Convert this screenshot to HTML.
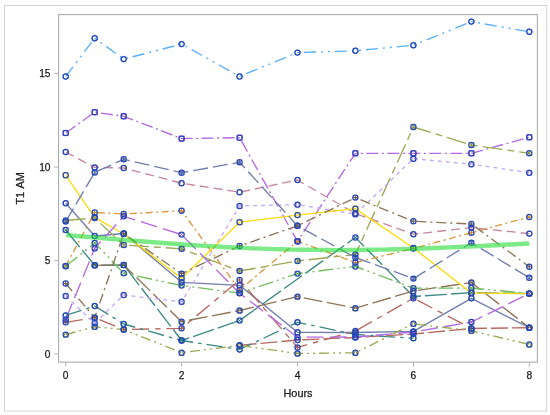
<!DOCTYPE html>
<html><head><meta charset="utf-8"><title>T1 AM by Hours</title>
<style>html,body{margin:0;padding:0;background:#fff;}svg{display:block;}</style>
</head><body>
<svg width="550" height="415" viewBox="0 0 550 415">
<rect width="550" height="415" fill="#fff"/>
<rect x="4.5" y="5.5" width="542.2" height="405.6" fill="#fff" stroke="#d2d2d2" stroke-width="1"/>
<rect x="58.6" y="14.6" width="478.8" height="347.5" fill="#fff" stroke="#aaacae" stroke-width="1.1"/>
<g stroke="#b4b4b4" stroke-width="1">
<line x1="54" x2="58" y1="354.0" y2="354.0"/>
<line x1="54" x2="58" y1="260.6" y2="260.6"/>
<line x1="54" x2="58" y1="167.0" y2="167.0"/>
<line x1="54" x2="58" y1="73.3" y2="73.3"/>
<line x1="65.7" x2="65.7" y1="362.5" y2="366.6"/>
<line x1="181.6" x2="181.6" y1="362.5" y2="366.6"/>
<line x1="297.5" x2="297.5" y1="362.5" y2="366.6"/>
<line x1="413.4" x2="413.4" y1="362.5" y2="366.6"/>
<line x1="529.3" x2="529.3" y1="362.5" y2="366.6"/>
</g>
<g font-family="'Liberation Sans', Arial, sans-serif" font-size="10.2" fill="#1c1c1c" stroke="#1c1c1c" stroke-width="0.25">
<text x="50.5" y="357.8" text-anchor="end">0</text>
<text x="50.5" y="264.4" text-anchor="end">5</text>
<text x="50.5" y="170.8" text-anchor="end">10</text>
<text x="50.5" y="77.1" text-anchor="end">15</text>
<text x="65.7" y="378.9" text-anchor="middle">0</text>
<text x="181.6" y="378.9" text-anchor="middle">2</text>
<text x="297.5" y="378.9" text-anchor="middle">4</text>
<text x="413.4" y="378.9" text-anchor="middle">6</text>
<text x="529.3" y="378.9" text-anchor="middle">8</text>
<text x="298" y="397.4" text-anchor="middle" font-size="10.9">Hours</text>
<text transform="translate(23.5,188.3) rotate(-90)" text-anchor="middle" word-spacing="1" font-size="10.9">T1 AM</text>
</g>
<g fill="none" stroke-width="1.35" stroke-linejoin="round">
<polyline points="65.7,203.2 94.7,236.0 123.7,233.5 181.6,282.3 239.6,285.3 297.5,332.3 355.4,332.5 413.4,331.4 471.4,298.3 529.3,327.7" stroke="#707ead"/>
<polyline points="65.7,322.3 94.7,317.7 123.7,329.5 181.6,328.3 239.6,280.0 297.5,347.4 355.4,331.0 413.4,298.2 471.4,328.4" stroke="#b86960" stroke-dasharray="17,6,5.5,6"/>
<polyline points="65.7,230.0 94.7,265.3 123.7,265.0 181.6,340.5 239.6,320.5 355.4,237.5 413.4,296.5 471.4,292.7 529.3,293.6" stroke="#3d8a84" stroke-dasharray="22,4"/>
<polyline points="94.7,265.3 123.7,265.0 181.6,321.7 239.6,310.5 297.5,296.6 355.4,308.2 413.4,291.0 471.4,282.5 529.3,327.7" stroke="#8e7557" stroke-dasharray="19,4.5"/>
<polyline points="65.7,133.0 94.7,112.2 123.7,116.3 181.6,138.6 239.6,137.7 297.5,241.3 355.4,153.3 413.4,153.3 471.4,153.3 529.3,137.3" stroke="#b46ae3" stroke-dasharray="12,3.5,2,3.5"/>
<polyline points="65.7,220.5 94.7,218.0 123.7,245.0 181.6,248.8 239.6,271.0 297.5,261.0 355.4,254.5 413.4,127.0 471.4,145.0 529.3,153.3" stroke="#9da954" stroke-dasharray="20,5,7,5"/>
<polyline points="65.7,76.4 94.7,38.2 123.7,59.1 181.6,44.1 239.6,76.4 297.5,52.6 355.4,50.8 413.4,45.2 471.4,21.6 529.3,31.8" stroke="#59affb" stroke-dasharray="12,5,2,5,2,5"/>
<polyline points="65.7,152.0 94.7,167.4 123.7,168.0 181.6,183.2 239.6,192.2 297.5,180.0 355.4,213.5 413.4,234.2 471.4,227.6 529.3,233.6" stroke="#c486a1" stroke-dasharray="9,5"/>
<polyline points="65.7,266.0 94.7,212.4 123.7,214.0 181.6,210.8 239.6,290.0 297.5,241.3 355.4,262.5 413.4,248.5 471.4,232.7 529.3,217.0" stroke="#dc983d" stroke-dasharray="7,3.5,2,3.5"/>
<polyline points="65.7,266.3 94.7,243.0 123.7,273.3 181.6,285.5 239.6,293.0 297.5,273.6 355.4,266.4 413.4,288.2 471.4,288.0 529.3,293.6" stroke="#73bc5d" stroke-dasharray="15,4,2,4,2,4"/>
<polyline points="65.7,296.0 94.7,323.2 123.7,295.0 181.6,301.8 239.6,206.0 297.5,204.6 355.4,214.2 413.4,158.7 471.4,164.2 529.3,172.7" stroke="#c5a9f5" stroke-dasharray="4,4"/>
<polyline points="65.7,175.3 94.7,217.3 123.7,234.0 181.6,278.3 239.6,222.2 297.5,215.1 355.4,208.6 413.4,248.0 471.4,293.0 529.3,293.6" stroke="#f9db10"/>
<polyline points="65.7,221.5 94.7,172.5 123.7,159.3 181.6,172.7 239.6,162.3 297.5,225.8 355.4,257.5 413.4,278.6 471.4,242.7 529.3,277.8" stroke="#707ead" stroke-dasharray="15,5"/>
<polyline points="239.6,345.3 297.5,340.0 355.4,337.5 413.4,334.0 471.4,328.5 529.3,327.7" stroke="#b86960" stroke-dasharray="17,4"/>
<polyline points="65.7,315.4 94.7,306.0 123.7,324.0 181.6,340.5 239.6,349.5 297.5,322.3 355.4,334.5 413.4,338.3" stroke="#3d8a84" stroke-dasharray="16.5,5,3.5,5"/>
<polyline points="65.7,283.5 94.7,317.7 123.7,233.5 181.6,273.7 239.6,246.0 297.5,225.8 355.4,197.6 413.4,221.3 471.4,224.0 529.3,266.7" stroke="#8e7557" stroke-dasharray="10,4,2,4"/>
<polyline points="65.7,319.5 94.7,248.4 123.7,216.3 181.6,234.6 239.6,293.3 297.5,337.2 355.4,337.0 413.4,332.0 471.4,322.0 529.3,293.6" stroke="#b46ae3" stroke-dasharray="17,6"/>
<polyline points="65.7,334.6 94.7,326.8 123.7,329.5 181.6,352.7 239.6,345.5 297.5,353.5 355.4,352.8 413.4,323.8 471.4,330.8 529.3,344.5" stroke="#9da954" stroke-dasharray="10,4,2,4,2,4"/>
</g>
<g>
<circle cx="65.7" cy="203.2" r="2.5" stroke="#56669e" stroke-width="1" fill="none"/>
<circle cx="94.7" cy="236.0" r="2.5" stroke="#56669e" stroke-width="1" fill="none"/>
<circle cx="123.7" cy="233.5" r="2.5" stroke="#56669e" stroke-width="1" fill="none"/>
<circle cx="181.6" cy="282.3" r="2.5" stroke="#56669e" stroke-width="1" fill="none"/>
<circle cx="239.6" cy="285.3" r="2.5" stroke="#56669e" stroke-width="1" fill="none"/>
<circle cx="297.5" cy="332.3" r="2.5" stroke="#56669e" stroke-width="1" fill="none"/>
<circle cx="355.4" cy="332.5" r="2.5" stroke="#56669e" stroke-width="1" fill="none"/>
<circle cx="413.4" cy="331.4" r="2.5" stroke="#56669e" stroke-width="1" fill="none"/>
<circle cx="471.4" cy="298.3" r="2.5" stroke="#56669e" stroke-width="1" fill="none"/>
<circle cx="529.3" cy="327.7" r="2.5" stroke="#56669e" stroke-width="1" fill="none"/>
<path d="M63.2 322.3H68.2M65.7 319.8V324.8" stroke="#ab4d42" stroke-width="1" fill="none"/>
<path d="M92.2 317.7H97.2M94.7 315.2V320.2" stroke="#ab4d42" stroke-width="1" fill="none"/>
<path d="M121.2 329.5H126.2M123.7 327.0V332.0" stroke="#ab4d42" stroke-width="1" fill="none"/>
<path d="M179.1 328.3H184.1M181.6 325.8V330.8" stroke="#ab4d42" stroke-width="1" fill="none"/>
<path d="M237.1 280.0H242.1M239.6 277.5V282.5" stroke="#ab4d42" stroke-width="1" fill="none"/>
<path d="M295.0 347.4H300.0M297.5 344.9V349.9" stroke="#ab4d42" stroke-width="1" fill="none"/>
<path d="M352.9 331.0H357.9M355.4 328.5V333.5" stroke="#ab4d42" stroke-width="1" fill="none"/>
<path d="M410.9 298.2H415.9M413.4 295.7V300.7" stroke="#ab4d42" stroke-width="1" fill="none"/>
<path d="M468.9 328.4H473.9M471.4 325.9V330.9" stroke="#ab4d42" stroke-width="1" fill="none"/>
<path d="M63.2 227.5L68.2 232.5M68.2 227.5L63.2 232.5" stroke="#1a756e" stroke-width="1" fill="none"/>
<path d="M92.2 262.8L97.2 267.8M97.2 262.8L92.2 267.8" stroke="#1a756e" stroke-width="1" fill="none"/>
<path d="M121.2 262.5L126.2 267.5M126.2 262.5L121.2 267.5" stroke="#1a756e" stroke-width="1" fill="none"/>
<path d="M179.1 338.0L184.1 343.0M184.1 338.0L179.1 343.0" stroke="#1a756e" stroke-width="1" fill="none"/>
<path d="M237.1 318.0L242.1 323.0M242.1 318.0L237.1 323.0" stroke="#1a756e" stroke-width="1" fill="none"/>
<path d="M352.9 235.0L357.9 240.0M357.9 235.0L352.9 240.0" stroke="#1a756e" stroke-width="1" fill="none"/>
<path d="M410.9 294.0L415.9 299.0M415.9 294.0L410.9 299.0" stroke="#1a756e" stroke-width="1" fill="none"/>
<path d="M468.9 290.2L473.9 295.2M473.9 290.2L468.9 295.2" stroke="#1a756e" stroke-width="1" fill="none"/>
<path d="M526.8 291.1L531.8 296.1M531.8 291.1L526.8 296.1" stroke="#1a756e" stroke-width="1" fill="none"/>
<path d="M94.7 262.8L97.2 267.8H92.2Z" stroke="#795c38" stroke-width="1" fill="none"/>
<path d="M123.7 262.5L126.2 267.5H121.2Z" stroke="#795c38" stroke-width="1" fill="none"/>
<path d="M181.6 319.2L184.1 324.2H179.1Z" stroke="#795c38" stroke-width="1" fill="none"/>
<path d="M239.6 308.0L242.1 313.0H237.1Z" stroke="#795c38" stroke-width="1" fill="none"/>
<path d="M297.5 294.1L300.0 299.1H295.0Z" stroke="#795c38" stroke-width="1" fill="none"/>
<path d="M355.4 305.7L357.9 310.7H352.9Z" stroke="#795c38" stroke-width="1" fill="none"/>
<path d="M413.4 288.5L415.9 293.5H410.9Z" stroke="#795c38" stroke-width="1" fill="none"/>
<path d="M471.4 280.0L473.9 285.0H468.9Z" stroke="#795c38" stroke-width="1" fill="none"/>
<path d="M529.3 325.2L531.8 330.2H526.8Z" stroke="#795c38" stroke-width="1" fill="none"/>
<rect x="63.2" y="130.5" width="5.0" height="5.0" stroke="#a64fde" stroke-width="1" fill="none"/>
<rect x="92.2" y="109.7" width="5.0" height="5.0" stroke="#a64fde" stroke-width="1" fill="none"/>
<rect x="121.2" y="113.8" width="5.0" height="5.0" stroke="#a64fde" stroke-width="1" fill="none"/>
<rect x="179.1" y="136.1" width="5.0" height="5.0" stroke="#a64fde" stroke-width="1" fill="none"/>
<rect x="237.1" y="135.2" width="5.0" height="5.0" stroke="#a64fde" stroke-width="1" fill="none"/>
<rect x="295.0" y="238.8" width="5.0" height="5.0" stroke="#a64fde" stroke-width="1" fill="none"/>
<rect x="352.9" y="150.8" width="5.0" height="5.0" stroke="#a64fde" stroke-width="1" fill="none"/>
<rect x="410.9" y="150.8" width="5.0" height="5.0" stroke="#a64fde" stroke-width="1" fill="none"/>
<rect x="468.9" y="150.8" width="5.0" height="5.0" stroke="#a64fde" stroke-width="1" fill="none"/>
<rect x="526.8" y="134.8" width="5.0" height="5.0" stroke="#a64fde" stroke-width="1" fill="none"/>
<path d="M63.2 218.0L68.2 223.0M68.2 218.0L63.2 223.0M65.7 218.0V223.0" stroke="#8b9935" stroke-width="1" fill="none"/>
<path d="M92.2 215.5L97.2 220.5M97.2 215.5L92.2 220.5M94.7 215.5V220.5" stroke="#8b9935" stroke-width="1" fill="none"/>
<path d="M121.2 242.5L126.2 247.5M126.2 242.5L121.2 247.5M123.7 242.5V247.5" stroke="#8b9935" stroke-width="1" fill="none"/>
<path d="M179.1 246.3L184.1 251.3M184.1 246.3L179.1 251.3M181.6 246.3V251.3" stroke="#8b9935" stroke-width="1" fill="none"/>
<path d="M237.1 268.5L242.1 273.5M242.1 268.5L237.1 273.5M239.6 268.5V273.5" stroke="#8b9935" stroke-width="1" fill="none"/>
<path d="M295.0 258.5L300.0 263.5M300.0 258.5L295.0 263.5M297.5 258.5V263.5" stroke="#8b9935" stroke-width="1" fill="none"/>
<path d="M352.9 252.0L357.9 257.0M357.9 252.0L352.9 257.0M355.4 252.0V257.0" stroke="#8b9935" stroke-width="1" fill="none"/>
<path d="M410.9 124.5L415.9 129.5M415.9 124.5L410.9 129.5M413.4 124.5V129.5" stroke="#8b9935" stroke-width="1" fill="none"/>
<path d="M468.9 142.5L473.9 147.5M473.9 142.5L468.9 147.5M471.4 142.5V147.5" stroke="#8b9935" stroke-width="1" fill="none"/>
<path d="M526.8 150.8L531.8 155.8M531.8 150.8L526.8 155.8M529.3 150.8V155.8" stroke="#8b9935" stroke-width="1" fill="none"/>
<path d="M65.7 73.3L68.8 76.4L65.7 79.5L62.6 76.4Z" stroke="#3aa1fa" stroke-width="1" fill="none"/>
<path d="M94.7 35.1L97.8 38.2L94.7 41.3L91.6 38.2Z" stroke="#3aa1fa" stroke-width="1" fill="none"/>
<path d="M123.7 56.0L126.8 59.1L123.7 62.2L120.6 59.1Z" stroke="#3aa1fa" stroke-width="1" fill="none"/>
<path d="M181.6 41.0L184.7 44.1L181.6 47.2L178.5 44.1Z" stroke="#3aa1fa" stroke-width="1" fill="none"/>
<path d="M239.6 73.3L242.7 76.4L239.6 79.5L236.5 76.4Z" stroke="#3aa1fa" stroke-width="1" fill="none"/>
<path d="M297.5 49.5L300.6 52.6L297.5 55.7L294.4 52.6Z" stroke="#3aa1fa" stroke-width="1" fill="none"/>
<path d="M355.4 47.7L358.6 50.8L355.4 53.9L352.3 50.8Z" stroke="#3aa1fa" stroke-width="1" fill="none"/>
<path d="M413.4 42.1L416.5 45.2L413.4 48.3L410.3 45.2Z" stroke="#3aa1fa" stroke-width="1" fill="none"/>
<path d="M471.4 18.5L474.5 21.6L471.4 24.7L468.2 21.6Z" stroke="#3aa1fa" stroke-width="1" fill="none"/>
<path d="M529.3 28.7L532.4 31.8L529.3 34.9L526.2 31.8Z" stroke="#3aa1fa" stroke-width="1" fill="none"/>
<circle cx="65.7" cy="152.0" r="2.5" stroke="#b96f90" stroke-width="1" fill="none"/>
<circle cx="94.7" cy="167.4" r="2.5" stroke="#b96f90" stroke-width="1" fill="none"/>
<circle cx="123.7" cy="168.0" r="2.5" stroke="#b96f90" stroke-width="1" fill="none"/>
<circle cx="181.6" cy="183.2" r="2.5" stroke="#b96f90" stroke-width="1" fill="none"/>
<circle cx="239.6" cy="192.2" r="2.5" stroke="#b96f90" stroke-width="1" fill="none"/>
<circle cx="297.5" cy="180.0" r="2.5" stroke="#b96f90" stroke-width="1" fill="none"/>
<circle cx="355.4" cy="213.5" r="2.5" stroke="#b96f90" stroke-width="1" fill="none"/>
<circle cx="413.4" cy="234.2" r="2.5" stroke="#b96f90" stroke-width="1" fill="none"/>
<circle cx="471.4" cy="227.6" r="2.5" stroke="#b96f90" stroke-width="1" fill="none"/>
<circle cx="529.3" cy="233.6" r="2.5" stroke="#b96f90" stroke-width="1" fill="none"/>
<path d="M63.2 266.0H68.2M65.7 263.5V268.5" stroke="#d58519" stroke-width="1" fill="none"/>
<path d="M92.2 212.4H97.2M94.7 209.9V214.9" stroke="#d58519" stroke-width="1" fill="none"/>
<path d="M121.2 214.0H126.2M123.7 211.5V216.5" stroke="#d58519" stroke-width="1" fill="none"/>
<path d="M179.1 210.8H184.1M181.6 208.3V213.3" stroke="#d58519" stroke-width="1" fill="none"/>
<path d="M237.1 290.0H242.1M239.6 287.5V292.5" stroke="#d58519" stroke-width="1" fill="none"/>
<path d="M295.0 241.3H300.0M297.5 238.8V243.8" stroke="#d58519" stroke-width="1" fill="none"/>
<path d="M352.9 262.5H357.9M355.4 260.0V265.0" stroke="#d58519" stroke-width="1" fill="none"/>
<path d="M410.9 248.5H415.9M413.4 246.0V251.0" stroke="#d58519" stroke-width="1" fill="none"/>
<path d="M468.9 232.7H473.9M471.4 230.2V235.2" stroke="#d58519" stroke-width="1" fill="none"/>
<path d="M526.8 217.0H531.8M529.3 214.5V219.5" stroke="#d58519" stroke-width="1" fill="none"/>
<path d="M63.2 263.8L68.2 268.8M68.2 263.8L63.2 268.8" stroke="#59b03f" stroke-width="1" fill="none"/>
<path d="M92.2 240.5L97.2 245.5M97.2 240.5L92.2 245.5" stroke="#59b03f" stroke-width="1" fill="none"/>
<path d="M121.2 270.8L126.2 275.8M126.2 270.8L121.2 275.8" stroke="#59b03f" stroke-width="1" fill="none"/>
<path d="M179.1 283.0L184.1 288.0M184.1 283.0L179.1 288.0" stroke="#59b03f" stroke-width="1" fill="none"/>
<path d="M237.1 290.5L242.1 295.5M242.1 290.5L237.1 295.5" stroke="#59b03f" stroke-width="1" fill="none"/>
<path d="M295.0 271.1L300.0 276.1M300.0 271.1L295.0 276.1" stroke="#59b03f" stroke-width="1" fill="none"/>
<path d="M352.9 263.9L357.9 268.9M357.9 263.9L352.9 268.9" stroke="#59b03f" stroke-width="1" fill="none"/>
<path d="M410.9 285.7L415.9 290.7M415.9 285.7L410.9 290.7" stroke="#59b03f" stroke-width="1" fill="none"/>
<path d="M468.9 285.5L473.9 290.5M473.9 285.5L468.9 290.5" stroke="#59b03f" stroke-width="1" fill="none"/>
<path d="M526.8 291.1L531.8 296.1M531.8 291.1L526.8 296.1" stroke="#59b03f" stroke-width="1" fill="none"/>
<path d="M65.7 293.5L68.2 298.5H63.2Z" stroke="#ba99f4" stroke-width="1" fill="none"/>
<path d="M94.7 320.7L97.2 325.7H92.2Z" stroke="#ba99f4" stroke-width="1" fill="none"/>
<path d="M123.7 292.5L126.2 297.5H121.2Z" stroke="#ba99f4" stroke-width="1" fill="none"/>
<path d="M181.6 299.3L184.1 304.3H179.1Z" stroke="#ba99f4" stroke-width="1" fill="none"/>
<path d="M239.6 203.5L242.1 208.5H237.1Z" stroke="#ba99f4" stroke-width="1" fill="none"/>
<path d="M297.5 202.1L300.0 207.1H295.0Z" stroke="#ba99f4" stroke-width="1" fill="none"/>
<path d="M355.4 211.7L357.9 216.7H352.9Z" stroke="#ba99f4" stroke-width="1" fill="none"/>
<path d="M413.4 156.2L415.9 161.2H410.9Z" stroke="#ba99f4" stroke-width="1" fill="none"/>
<path d="M471.4 161.7L473.9 166.7H468.9Z" stroke="#ba99f4" stroke-width="1" fill="none"/>
<path d="M529.3 170.2L531.8 175.2H526.8Z" stroke="#ba99f4" stroke-width="1" fill="none"/>
<rect x="63.2" y="172.8" width="5.0" height="5.0" stroke="#f9dd1d" stroke-width="1" fill="none"/>
<rect x="92.2" y="214.8" width="5.0" height="5.0" stroke="#f9dd1d" stroke-width="1" fill="none"/>
<rect x="121.2" y="231.5" width="5.0" height="5.0" stroke="#f9dd1d" stroke-width="1" fill="none"/>
<rect x="179.1" y="275.8" width="5.0" height="5.0" stroke="#f9dd1d" stroke-width="1" fill="none"/>
<rect x="237.1" y="219.7" width="5.0" height="5.0" stroke="#f9dd1d" stroke-width="1" fill="none"/>
<rect x="295.0" y="212.6" width="5.0" height="5.0" stroke="#f9dd1d" stroke-width="1" fill="none"/>
<rect x="352.9" y="206.1" width="5.0" height="5.0" stroke="#f9dd1d" stroke-width="1" fill="none"/>
<rect x="410.9" y="245.5" width="5.0" height="5.0" stroke="#f9dd1d" stroke-width="1" fill="none"/>
<rect x="468.9" y="290.5" width="5.0" height="5.0" stroke="#f9dd1d" stroke-width="1" fill="none"/>
<rect x="526.8" y="291.1" width="5.0" height="5.0" stroke="#f9dd1d" stroke-width="1" fill="none"/>
<path d="M63.2 219.0L68.2 224.0M68.2 219.0L63.2 224.0M65.7 219.0V224.0" stroke="#56669e" stroke-width="1" fill="none"/>
<path d="M92.2 170.0L97.2 175.0M97.2 170.0L92.2 175.0M94.7 170.0V175.0" stroke="#56669e" stroke-width="1" fill="none"/>
<path d="M121.2 156.8L126.2 161.8M126.2 156.8L121.2 161.8M123.7 156.8V161.8" stroke="#56669e" stroke-width="1" fill="none"/>
<path d="M179.1 170.2L184.1 175.2M184.1 170.2L179.1 175.2M181.6 170.2V175.2" stroke="#56669e" stroke-width="1" fill="none"/>
<path d="M237.1 159.8L242.1 164.8M242.1 159.8L237.1 164.8M239.6 159.8V164.8" stroke="#56669e" stroke-width="1" fill="none"/>
<path d="M295.0 223.3L300.0 228.3M300.0 223.3L295.0 228.3M297.5 223.3V228.3" stroke="#56669e" stroke-width="1" fill="none"/>
<path d="M352.9 255.0L357.9 260.0M357.9 255.0L352.9 260.0M355.4 255.0V260.0" stroke="#56669e" stroke-width="1" fill="none"/>
<path d="M410.9 276.1L415.9 281.1M415.9 276.1L410.9 281.1M413.4 276.1V281.1" stroke="#56669e" stroke-width="1" fill="none"/>
<path d="M468.9 240.2L473.9 245.2M473.9 240.2L468.9 245.2M471.4 240.2V245.2" stroke="#56669e" stroke-width="1" fill="none"/>
<path d="M526.8 275.3L531.8 280.3M531.8 275.3L526.8 280.3M529.3 275.3V280.3" stroke="#56669e" stroke-width="1" fill="none"/>
<path d="M239.6 342.2L242.7 345.3L239.6 348.4L236.5 345.3Z" stroke="#ab4d42" stroke-width="1" fill="none"/>
<path d="M297.5 336.9L300.6 340.0L297.5 343.1L294.4 340.0Z" stroke="#ab4d42" stroke-width="1" fill="none"/>
<path d="M355.4 334.4L358.6 337.5L355.4 340.6L352.3 337.5Z" stroke="#ab4d42" stroke-width="1" fill="none"/>
<path d="M413.4 330.9L416.5 334.0L413.4 337.1L410.3 334.0Z" stroke="#ab4d42" stroke-width="1" fill="none"/>
<path d="M471.4 325.4L474.5 328.5L471.4 331.6L468.2 328.5Z" stroke="#ab4d42" stroke-width="1" fill="none"/>
<path d="M529.3 324.6L532.4 327.7L529.3 330.8L526.2 327.7Z" stroke="#ab4d42" stroke-width="1" fill="none"/>
<circle cx="65.7" cy="315.4" r="2.5" stroke="#1a756e" stroke-width="1" fill="none"/>
<circle cx="94.7" cy="306.0" r="2.5" stroke="#1a756e" stroke-width="1" fill="none"/>
<circle cx="123.7" cy="324.0" r="2.5" stroke="#1a756e" stroke-width="1" fill="none"/>
<circle cx="181.6" cy="340.5" r="2.5" stroke="#1a756e" stroke-width="1" fill="none"/>
<circle cx="239.6" cy="349.5" r="2.5" stroke="#1a756e" stroke-width="1" fill="none"/>
<circle cx="297.5" cy="322.3" r="2.5" stroke="#1a756e" stroke-width="1" fill="none"/>
<circle cx="355.4" cy="334.5" r="2.5" stroke="#1a756e" stroke-width="1" fill="none"/>
<circle cx="413.4" cy="338.3" r="2.5" stroke="#1a756e" stroke-width="1" fill="none"/>
<path d="M63.2 283.5H68.2M65.7 281.0V286.0" stroke="#795c38" stroke-width="1" fill="none"/>
<path d="M92.2 317.7H97.2M94.7 315.2V320.2" stroke="#795c38" stroke-width="1" fill="none"/>
<path d="M121.2 233.5H126.2M123.7 231.0V236.0" stroke="#795c38" stroke-width="1" fill="none"/>
<path d="M179.1 273.7H184.1M181.6 271.2V276.2" stroke="#795c38" stroke-width="1" fill="none"/>
<path d="M237.1 246.0H242.1M239.6 243.5V248.5" stroke="#795c38" stroke-width="1" fill="none"/>
<path d="M295.0 225.8H300.0M297.5 223.3V228.3" stroke="#795c38" stroke-width="1" fill="none"/>
<path d="M352.9 197.6H357.9M355.4 195.1V200.1" stroke="#795c38" stroke-width="1" fill="none"/>
<path d="M410.9 221.3H415.9M413.4 218.8V223.8" stroke="#795c38" stroke-width="1" fill="none"/>
<path d="M468.9 224.0H473.9M471.4 221.5V226.5" stroke="#795c38" stroke-width="1" fill="none"/>
<path d="M526.8 266.7H531.8M529.3 264.2V269.2" stroke="#795c38" stroke-width="1" fill="none"/>
<path d="M63.2 317.0L68.2 322.0M68.2 317.0L63.2 322.0" stroke="#a64fde" stroke-width="1" fill="none"/>
<path d="M92.2 245.9L97.2 250.9M97.2 245.9L92.2 250.9" stroke="#a64fde" stroke-width="1" fill="none"/>
<path d="M121.2 213.8L126.2 218.8M126.2 213.8L121.2 218.8" stroke="#a64fde" stroke-width="1" fill="none"/>
<path d="M179.1 232.1L184.1 237.1M184.1 232.1L179.1 237.1" stroke="#a64fde" stroke-width="1" fill="none"/>
<path d="M237.1 290.8L242.1 295.8M242.1 290.8L237.1 295.8" stroke="#a64fde" stroke-width="1" fill="none"/>
<path d="M295.0 334.7L300.0 339.7M300.0 334.7L295.0 339.7" stroke="#a64fde" stroke-width="1" fill="none"/>
<path d="M352.9 334.5L357.9 339.5M357.9 334.5L352.9 339.5" stroke="#a64fde" stroke-width="1" fill="none"/>
<path d="M410.9 329.5L415.9 334.5M415.9 329.5L410.9 334.5" stroke="#a64fde" stroke-width="1" fill="none"/>
<path d="M468.9 319.5L473.9 324.5M473.9 319.5L468.9 324.5" stroke="#a64fde" stroke-width="1" fill="none"/>
<path d="M526.8 291.1L531.8 296.1M531.8 291.1L526.8 296.1" stroke="#a64fde" stroke-width="1" fill="none"/>
<path d="M65.7 332.1L68.2 337.1H63.2Z" stroke="#8b9935" stroke-width="1" fill="none"/>
<path d="M94.7 324.3L97.2 329.3H92.2Z" stroke="#8b9935" stroke-width="1" fill="none"/>
<path d="M123.7 327.0L126.2 332.0H121.2Z" stroke="#8b9935" stroke-width="1" fill="none"/>
<path d="M181.6 350.2L184.1 355.2H179.1Z" stroke="#8b9935" stroke-width="1" fill="none"/>
<path d="M239.6 343.0L242.1 348.0H237.1Z" stroke="#8b9935" stroke-width="1" fill="none"/>
<path d="M297.5 351.0L300.0 356.0H295.0Z" stroke="#8b9935" stroke-width="1" fill="none"/>
<path d="M355.4 350.3L357.9 355.3H352.9Z" stroke="#8b9935" stroke-width="1" fill="none"/>
<path d="M413.4 321.3L415.9 326.3H410.9Z" stroke="#8b9935" stroke-width="1" fill="none"/>
<path d="M471.4 328.3L473.9 333.3H468.9Z" stroke="#8b9935" stroke-width="1" fill="none"/>
<path d="M529.3 342.0L531.8 347.0H526.8Z" stroke="#8b9935" stroke-width="1" fill="none"/>
</g>
<g fill="none" stroke="#2647b6" stroke-width="1.25">
<circle cx="65.7" cy="203.2" r="2.6"/>
<circle cx="94.7" cy="236.0" r="2.6"/>
<circle cx="123.7" cy="233.5" r="2.6"/>
<circle cx="181.6" cy="282.3" r="2.6"/>
<circle cx="239.6" cy="285.3" r="2.6"/>
<circle cx="297.5" cy="332.3" r="2.6"/>
<circle cx="355.4" cy="332.5" r="2.6"/>
<circle cx="413.4" cy="331.4" r="2.6"/>
<circle cx="471.4" cy="298.3" r="2.6"/>
<circle cx="529.3" cy="327.7" r="2.6"/>
<circle cx="65.7" cy="322.3" r="2.6"/>
<circle cx="94.7" cy="317.7" r="2.6"/>
<circle cx="123.7" cy="329.5" r="2.6"/>
<circle cx="181.6" cy="328.3" r="2.6"/>
<circle cx="239.6" cy="280.0" r="2.6"/>
<circle cx="297.5" cy="347.4" r="2.6"/>
<circle cx="355.4" cy="331.0" r="2.6"/>
<circle cx="413.4" cy="298.2" r="2.6"/>
<circle cx="471.4" cy="328.4" r="2.6"/>
<circle cx="65.7" cy="230.0" r="2.6"/>
<circle cx="94.7" cy="265.3" r="2.6"/>
<circle cx="123.7" cy="265.0" r="2.6"/>
<circle cx="181.6" cy="340.5" r="2.6"/>
<circle cx="239.6" cy="320.5" r="2.6"/>
<circle cx="355.4" cy="237.5" r="2.6"/>
<circle cx="413.4" cy="296.5" r="2.6"/>
<circle cx="471.4" cy="292.7" r="2.6"/>
<circle cx="529.3" cy="293.6" r="2.6"/>
<circle cx="94.7" cy="265.3" r="2.6"/>
<circle cx="123.7" cy="265.0" r="2.6"/>
<circle cx="181.6" cy="321.7" r="2.6"/>
<circle cx="239.6" cy="310.5" r="2.6"/>
<circle cx="297.5" cy="296.6" r="2.6"/>
<circle cx="355.4" cy="308.2" r="2.6"/>
<circle cx="413.4" cy="291.0" r="2.6"/>
<circle cx="471.4" cy="282.5" r="2.6"/>
<circle cx="529.3" cy="327.7" r="2.6"/>
<circle cx="65.7" cy="133.0" r="2.6"/>
<circle cx="94.7" cy="112.2" r="2.6"/>
<circle cx="123.7" cy="116.3" r="2.6"/>
<circle cx="181.6" cy="138.6" r="2.6"/>
<circle cx="239.6" cy="137.7" r="2.6"/>
<circle cx="297.5" cy="241.3" r="2.6"/>
<circle cx="355.4" cy="153.3" r="2.6"/>
<circle cx="413.4" cy="153.3" r="2.6"/>
<circle cx="471.4" cy="153.3" r="2.6"/>
<circle cx="529.3" cy="137.3" r="2.6"/>
<circle cx="65.7" cy="220.5" r="2.6"/>
<circle cx="94.7" cy="218.0" r="2.6"/>
<circle cx="123.7" cy="245.0" r="2.6"/>
<circle cx="181.6" cy="248.8" r="2.6"/>
<circle cx="239.6" cy="271.0" r="2.6"/>
<circle cx="297.5" cy="261.0" r="2.6"/>
<circle cx="355.4" cy="254.5" r="2.6"/>
<circle cx="413.4" cy="127.0" r="2.6"/>
<circle cx="471.4" cy="145.0" r="2.6"/>
<circle cx="529.3" cy="153.3" r="2.6"/>
<circle cx="65.7" cy="76.4" r="2.6"/>
<circle cx="94.7" cy="38.2" r="2.6"/>
<circle cx="123.7" cy="59.1" r="2.6"/>
<circle cx="181.6" cy="44.1" r="2.6"/>
<circle cx="239.6" cy="76.4" r="2.6"/>
<circle cx="297.5" cy="52.6" r="2.6"/>
<circle cx="355.4" cy="50.8" r="2.6"/>
<circle cx="413.4" cy="45.2" r="2.6"/>
<circle cx="471.4" cy="21.6" r="2.6"/>
<circle cx="529.3" cy="31.8" r="2.6"/>
<circle cx="65.7" cy="152.0" r="2.6"/>
<circle cx="94.7" cy="167.4" r="2.6"/>
<circle cx="123.7" cy="168.0" r="2.6"/>
<circle cx="181.6" cy="183.2" r="2.6"/>
<circle cx="239.6" cy="192.2" r="2.6"/>
<circle cx="297.5" cy="180.0" r="2.6"/>
<circle cx="355.4" cy="213.5" r="2.6"/>
<circle cx="413.4" cy="234.2" r="2.6"/>
<circle cx="471.4" cy="227.6" r="2.6"/>
<circle cx="529.3" cy="233.6" r="2.6"/>
<circle cx="65.7" cy="266.0" r="2.6"/>
<circle cx="94.7" cy="212.4" r="2.6"/>
<circle cx="123.7" cy="214.0" r="2.6"/>
<circle cx="181.6" cy="210.8" r="2.6"/>
<circle cx="239.6" cy="290.0" r="2.6"/>
<circle cx="297.5" cy="241.3" r="2.6"/>
<circle cx="355.4" cy="262.5" r="2.6"/>
<circle cx="413.4" cy="248.5" r="2.6"/>
<circle cx="471.4" cy="232.7" r="2.6"/>
<circle cx="529.3" cy="217.0" r="2.6"/>
<circle cx="65.7" cy="266.3" r="2.6"/>
<circle cx="94.7" cy="243.0" r="2.6"/>
<circle cx="123.7" cy="273.3" r="2.6"/>
<circle cx="181.6" cy="285.5" r="2.6"/>
<circle cx="239.6" cy="293.0" r="2.6"/>
<circle cx="297.5" cy="273.6" r="2.6"/>
<circle cx="355.4" cy="266.4" r="2.6"/>
<circle cx="413.4" cy="288.2" r="2.6"/>
<circle cx="471.4" cy="288.0" r="2.6"/>
<circle cx="529.3" cy="293.6" r="2.6"/>
<circle cx="65.7" cy="296.0" r="2.6"/>
<circle cx="94.7" cy="323.2" r="2.6"/>
<circle cx="123.7" cy="295.0" r="2.6"/>
<circle cx="181.6" cy="301.8" r="2.6"/>
<circle cx="239.6" cy="206.0" r="2.6"/>
<circle cx="297.5" cy="204.6" r="2.6"/>
<circle cx="355.4" cy="214.2" r="2.6"/>
<circle cx="413.4" cy="158.7" r="2.6"/>
<circle cx="471.4" cy="164.2" r="2.6"/>
<circle cx="529.3" cy="172.7" r="2.6"/>
<circle cx="65.7" cy="175.3" r="2.6"/>
<circle cx="94.7" cy="217.3" r="2.6"/>
<circle cx="123.7" cy="234.0" r="2.6"/>
<circle cx="181.6" cy="278.3" r="2.6"/>
<circle cx="239.6" cy="222.2" r="2.6"/>
<circle cx="297.5" cy="215.1" r="2.6"/>
<circle cx="355.4" cy="208.6" r="2.6"/>
<circle cx="413.4" cy="248.0" r="2.6"/>
<circle cx="471.4" cy="293.0" r="2.6"/>
<circle cx="529.3" cy="293.6" r="2.6"/>
<circle cx="65.7" cy="221.5" r="2.6"/>
<circle cx="94.7" cy="172.5" r="2.6"/>
<circle cx="123.7" cy="159.3" r="2.6"/>
<circle cx="181.6" cy="172.7" r="2.6"/>
<circle cx="239.6" cy="162.3" r="2.6"/>
<circle cx="297.5" cy="225.8" r="2.6"/>
<circle cx="355.4" cy="257.5" r="2.6"/>
<circle cx="413.4" cy="278.6" r="2.6"/>
<circle cx="471.4" cy="242.7" r="2.6"/>
<circle cx="529.3" cy="277.8" r="2.6"/>
<circle cx="239.6" cy="345.3" r="2.6"/>
<circle cx="297.5" cy="340.0" r="2.6"/>
<circle cx="355.4" cy="337.5" r="2.6"/>
<circle cx="413.4" cy="334.0" r="2.6"/>
<circle cx="471.4" cy="328.5" r="2.6"/>
<circle cx="529.3" cy="327.7" r="2.6"/>
<circle cx="65.7" cy="315.4" r="2.6"/>
<circle cx="94.7" cy="306.0" r="2.6"/>
<circle cx="123.7" cy="324.0" r="2.6"/>
<circle cx="181.6" cy="340.5" r="2.6"/>
<circle cx="239.6" cy="349.5" r="2.6"/>
<circle cx="297.5" cy="322.3" r="2.6"/>
<circle cx="355.4" cy="334.5" r="2.6"/>
<circle cx="413.4" cy="338.3" r="2.6"/>
<circle cx="65.7" cy="283.5" r="2.6"/>
<circle cx="94.7" cy="317.7" r="2.6"/>
<circle cx="123.7" cy="233.5" r="2.6"/>
<circle cx="181.6" cy="273.7" r="2.6"/>
<circle cx="239.6" cy="246.0" r="2.6"/>
<circle cx="297.5" cy="225.8" r="2.6"/>
<circle cx="355.4" cy="197.6" r="2.6"/>
<circle cx="413.4" cy="221.3" r="2.6"/>
<circle cx="471.4" cy="224.0" r="2.6"/>
<circle cx="529.3" cy="266.7" r="2.6"/>
<circle cx="65.7" cy="319.5" r="2.6"/>
<circle cx="94.7" cy="248.4" r="2.6"/>
<circle cx="123.7" cy="216.3" r="2.6"/>
<circle cx="181.6" cy="234.6" r="2.6"/>
<circle cx="239.6" cy="293.3" r="2.6"/>
<circle cx="297.5" cy="337.2" r="2.6"/>
<circle cx="355.4" cy="337.0" r="2.6"/>
<circle cx="413.4" cy="332.0" r="2.6"/>
<circle cx="471.4" cy="322.0" r="2.6"/>
<circle cx="529.3" cy="293.6" r="2.6"/>
<circle cx="65.7" cy="334.6" r="2.6"/>
<circle cx="94.7" cy="326.8" r="2.6"/>
<circle cx="123.7" cy="329.5" r="2.6"/>
<circle cx="181.6" cy="352.7" r="2.6"/>
<circle cx="239.6" cy="345.5" r="2.6"/>
<circle cx="297.5" cy="353.5" r="2.6"/>
<circle cx="355.4" cy="352.8" r="2.6"/>
<circle cx="413.4" cy="323.8" r="2.6"/>
<circle cx="471.4" cy="330.8" r="2.6"/>
<circle cx="529.3" cy="344.5" r="2.6"/>
</g>
<polyline points="66.2,235.0 72.9,235.6 79.6,236.2 86.3,236.7 93.0,237.3 99.8,237.9 106.5,238.5 113.2,239.0 119.9,239.6 126.6,240.2 133.3,240.7 140.0,241.2 146.7,241.8 153.5,242.3 160.2,242.8 166.9,243.3 173.6,243.8 180.3,244.3 187.0,244.7 193.7,245.2 200.4,245.6 207.1,246.0 213.9,246.4 220.6,246.8 227.3,247.2 234.0,247.5 240.7,247.8 247.4,248.1 254.1,248.4 260.8,248.6 267.5,248.9 274.3,249.1 281.0,249.3 287.7,249.5 294.4,249.6 301.1,249.7 307.8,249.8 314.5,249.9 321.2,250.0 328.0,250.0 334.7,250.1 341.4,250.1 348.1,250.0 354.8,250.0 361.5,249.9 368.2,249.8 374.9,249.7 381.6,249.6 388.4,249.5 395.1,249.3 401.8,249.1 408.5,248.9 415.2,248.7 421.9,248.5 428.6,248.2 435.3,248.0 442.0,247.7 448.8,247.4 455.5,247.1 462.2,246.8 468.9,246.5 475.6,246.2 482.3,245.9 489.0,245.5 495.7,245.2 502.5,244.8 509.2,244.5 515.9,244.2 522.6,243.8 529.3,243.5" fill="none" stroke="rgb(30,220,48)" stroke-opacity="0.58" stroke-width="4.4" stroke-linejoin="round"/>
</svg>
</body></html>
